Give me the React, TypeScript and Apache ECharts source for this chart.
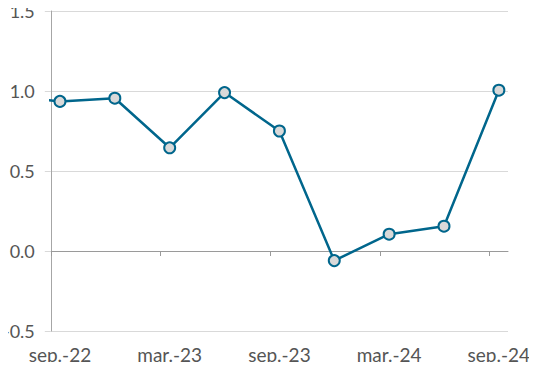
import React, { useEffect, useRef } from "react";
import * as echarts from "echarts";

// Quarterly observations (month offset from sep.-22 derived from index)
const quarters = ["jun.-22", "sep.-22", "dec.-22", "mar.-23", "jun.-23", "sep.-23", "dec.-23", "mar.-24", "jun.-24", "sep.-24"];
const values = [0.97, 0.935, 0.955, 0.645, 0.99, 0.75, -0.06, 0.105, 0.155, 1.005];
const tickLabels = ["sep.-22", "mar.-23", "sep.-23", "mar.-24", "sep.-24"];
const yTicks = [-0.5, 0, 0.5, 1.0, 1.5];

const FONT = "Lato, 'Open Sans', sans-serif";
const TEXT = "#555555";
const LINE = "#00668c";

export default function App() {
  const ref = useRef<HTMLDivElement>(null);
  useEffect(() => {
    if (!ref.current) return;
    const chart = echarts.init(ref.current, undefined, { renderer: "svg" });
    const monthOffset = (i: number) => (i - 1) * 3;
    const labelMonths = tickLabels.map((_, i) => i * 6);
    const tickMonths = tickLabels.map((_, i) => i * 6 - 0.5);
    chart.setOption({
      animation: false,
      grid: { left: 49, right: 29, top: 11, bottom: 39, containLabel: false },
      xAxis: [
        {
          type: "value",
          min: -0.5,
          max: 24.5,
          position: "bottom",
          axisLine: { show: true, onZero: true, lineStyle: { color: "#9a9a9a", width: 1 } },
          axisTick: { show: true, customValues: tickMonths, length: 5, lineStyle: { color: "#9a9a9a" } },
          axisLabel: { show: false },
          splitLine: { show: false },
        },
        {
          type: "value",
          min: -0.5,
          max: 24.5,
          position: "bottom",
          axisLine: { show: false, onZero: false },
          axisTick: { show: false },
          axisLabel: {
            show: true,
            customValues: labelMonths,
            formatter: (v: number) => tickLabels[Math.round(v / 6)] ?? "",
            color: TEXT,
            fontFamily: FONT,
            fontSize: 19,
            margin: 14,
          },
          splitLine: { show: false },
        },
      ],
      yAxis: {
        type: "value",
        min: yTicks[0],
        max: yTicks[yTicks.length - 1],
        interval: 0.5,
        axisLine: { show: true, onZero: false, lineStyle: { color: "#a6a6a6" } },
        axisTick: { show: true, length: 6, lineStyle: { color: "#d9d9d9" } },
        splitLine: { show: true, lineStyle: { color: "#d9d9d9" } },
        axisLabel: {
          formatter: (v: number) => v.toFixed(1),
          color: TEXT,
          fontFamily: FONT,
          fontSize: 18,
          margin: 16,
        },
      },
      series: [
        {
          type: "line",
          xAxisIndex: 0,
          clip: true,
          data: values.map((v, i) => [monthOffset(i), v]),
          symbol: "circle",
          symbolSize: 11,
          lineStyle: { color: LINE, width: 2.5 },
          itemStyle: { color: "#d9d9d9", borderColor: LINE, borderWidth: 2 },
        },
      ],
    });
    return () => chart.dispose();
  }, []);
  return <div ref={ref} style={{ width: 537, height: 370, margin: -8 }} />;
}
